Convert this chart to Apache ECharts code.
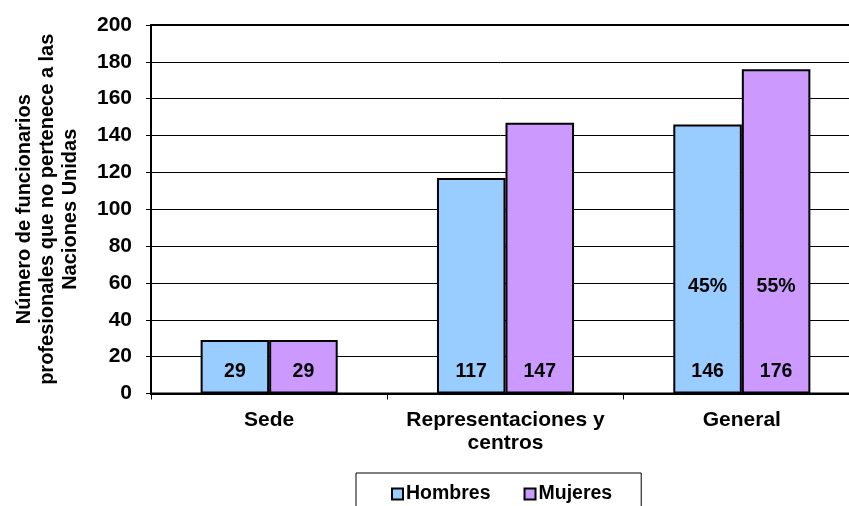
<!DOCTYPE html>
<html>
<head>
<meta charset="utf-8">
<script src="https://cdn.jsdelivr.net/npm/echarts@6/dist/echarts.min.js"></script>
<style>html,body{margin:0;padding:0;background:#fff}#c{width:849px;height:506px}</style>
</head>
<body>
<div id="c"></div>
<script>
var categories = ['Sede', 'Representaciones y\ncentros', 'General'];
var hombres = [29, 117, 146];
var mujeres = [29, 147, 176];
var pctHombres = [null, null, '45%'];
var pctMujeres = [null, null, '55%'];
var pctLevel = 58;
var yTicks = [0, 200, 20];
var yName = 'Número de funcionarios\nprofesionales que no pertenece a las\nNaciones Unidas';

var FONT = 'Arial, "Liberation Sans", sans-serif';
var FS = 19.5;
var AX_FS = 21;

function pctPoints(arr) {
  var pts = [];
  arr.forEach(function (p, i) {
    if (p) pts.push({ coord: [i, pctLevel], value: p });
  });
  return pts;
}

var chart = echarts.init(document.getElementById('c'), null, { renderer: 'canvas' });
function barSeries(name, data, color, pcts) {
  return {
    name: name,
    type: 'bar',
    data: data,
    barGap: '0%',
    barCategoryGap: '42%',
    itemStyle: { color: color, borderColor: '#000', borderWidth: 2 },
    label: {
      show: true, position: 'insideBottom', distance: 12,
      color: '#000', fontFamily: FONT, fontWeight: 'bold', fontSize: FS
    },
    markPoint: {
      symbol: 'rect', symbolSize: 0,
      label: {
        show: true, position: 'inside', formatter: function (p) { return p.value; },
        color: '#000', fontFamily: FONT, fontWeight: 'bold', fontSize: FS
      },
      data: pctPoints(pcts)
    }
  };
}

chart.setOption({
  animation: false,
  backgroundColor: '#fff',
  textStyle: { fontFamily: FONT },
  grid: {
    left: 151, top: 25, width: 709, bottom: 112.5,
    outerBoundsMode: 'none',
    show: true, borderColor: '#000', borderWidth: 2, backgroundColor: 'transparent'
  },
  legend: {
    left: 356, top: 473,
    padding: [11, 29, 30, 35],
    borderColor: '#000', borderWidth: 1,
    itemWidth: 11, itemHeight: 11, itemGap: 33,
    icon: 'rect',
    textStyle: { color: '#000', fontFamily: FONT, fontWeight: 'bold', fontSize: FS, padding: [0, 0, 0, -2] },
    data: ['Hombres', 'Mujeres']
  },
  xAxis: {
    type: 'category',
    data: categories,
    axisLine: { show: true, lineStyle: { color: '#000', width: 2 } },
    axisTick: { show: true, length: 6, lineStyle: { color: '#000', width: 1 } },
    axisLabel: {
      interval: 0,
      margin: 15, color: '#000', fontFamily: FONT, fontWeight: 'bold', fontSize: AX_FS, lineHeight: 23
    },
    splitLine: { show: false }
  },
  yAxis: {
    type: 'value',
    min: yTicks[0], max: yTicks[1], interval: yTicks[2],
    name: yName,
    nameLocation: 'middle',
    nameGap: 69,
    nameTextStyle: { color: '#000', fontFamily: FONT, fontWeight: 'bold', fontSize: 20, lineHeight: 23 },
    axisLine: { show: true, lineStyle: { color: '#000', width: 2 } },
    axisTick: { show: true, length: 5, lineStyle: { color: '#000', width: 1 } },
    axisLabel: { margin: 19, color: '#000', fontFamily: FONT, fontWeight: 'bold', fontSize: AX_FS },
    splitLine: { show: true, lineStyle: { color: '#000', width: 1 } }
  },
  series: [
    barSeries('Hombres', hombres, '#99CCFF', pctHombres),
    barSeries('Mujeres', mujeres, '#CC99FF', pctMujeres)
  ]
});
</script>
</body>
</html>
